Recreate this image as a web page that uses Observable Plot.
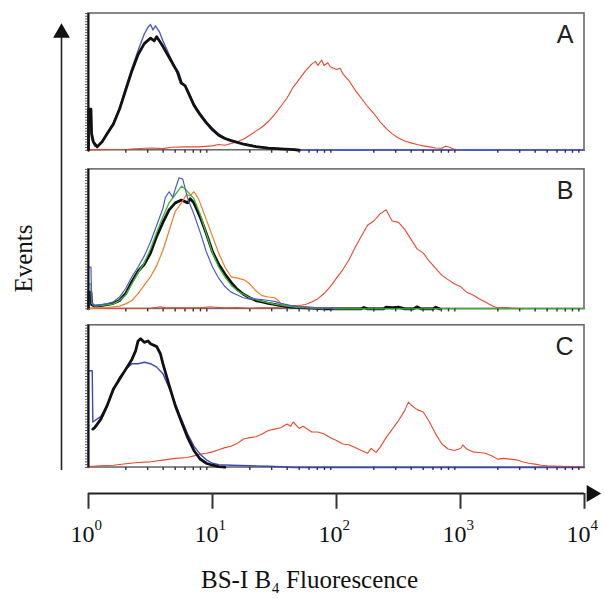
<!DOCTYPE html>
<html>
<head>
<meta charset="utf-8">
<script src="https://cdn.jsdelivr.net/npm/d3@7"></script>
<script src="https://cdn.jsdelivr.net/npm/@observablehq/plot@0.6"></script>
<style>
  html, body { margin: 0; padding: 0; background: #fff; }
</style>
</head>
<body>
<script>
// ---------- DATA (x = log10 fluorescence in decades, y = % of panel height) ----------
const panelIds = ["A", "B", "C"];
const decadeTicks = [1, 10, 100, 1000, 10000];
const tickBase = "10";
const tickExponents = ["0", "1", "2", "3", "4"];
const xTitle = "BS-I B\u2084 Fluorescence";
const yTitle = "Events";

const blackA = [[0,0],[0,30],[0.02,30],[0.025,12],[0.04,6],[0.07,2.5],[0.11,6.2],[0.15,12],[0.2,19],[0.25,30],[0.3,44],[0.35,58],[0.4,70],[0.45,78],[0.5,82],[0.53,80],[0.55,83],[0.6,76],[0.65,68],[0.7,60],[0.72,57],[0.75,49],[0.78,47],[0.8,43],[0.85,33],[0.9,26],[0.95,20],[1.0,15],[1.05,11],[1.1,8.6],[1.15,7],[1.2,5.7],[1.25,4.4],[1.3,3.5],[1.35,2.7],[1.45,1.5],[1.55,1],[1.66,0.5],[1.7,0]];
const blueA = [[0,0],[0,20],[0.02,20],[0.025,8],[0.05,3],[0.07,2.5],[0.11,6.5],[0.15,12.5],[0.2,20],[0.25,31],[0.3,46],[0.35,60],[0.4,73],[0.45,85],[0.48,90],[0.5,92],[0.52,88],[0.54,91],[0.57,87],[0.6,80],[0.65,70],[0.7,60],[0.74,49],[0.77,48],[0.8,44],[0.85,34],[0.9,27],[0.95,21],[1.0,16],[1.05,12],[1.1,9],[1.15,7.3],[1.2,6],[1.25,4.8],[1.3,3.8],[1.35,3],[1.45,1.7],[1.55,1.1],[1.66,0.6],[1.7,0],[4,0]];
const redA = [[0,0.3],[0.32,0.7],[0.45,1.5],[0.51,1.7],[0.6,1.2],[0.67,2.2],[0.78,2.5],[0.89,2.5],[1.0,3.2],[1.05,4.2],[1.1,3.7],[1.15,4.9],[1.2,6.2],[1.25,8],[1.3,11],[1.35,14],[1.4,17],[1.45,21],[1.5,26],[1.55,32],[1.6,38],[1.65,46],[1.7,52],[1.75,58],[1.8,63],[1.83,65],[1.85,62],[1.88,66],[1.9,62],[1.93,64],[1.95,61],[2.0,59],[2.03,60],[2.05,56],[2.1,51],[2.15,44],[2.2,38],[2.25,32],[2.3,27],[2.35,21],[2.4,16],[2.45,12],[2.5,9],[2.55,6.7],[2.6,5.4],[2.65,4.2],[2.7,3.2],[2.75,2.5],[2.8,1.7],[2.85,1.5],[2.88,3],[2.9,2.5],[2.93,1.5],[2.95,0.7],[3.0,0]];

const blackB = [[0,0],[0,12],[0.02,12],[0.025,3],[0.05,2],[0.1,2.4],[0.15,3],[0.2,4],[0.25,6],[0.3,11],[0.35,19.5],[0.4,27],[0.45,32],[0.5,40],[0.55,52],[0.6,62],[0.65,71],[0.7,76],[0.75,78],[0.8,76],[0.82,79],[0.85,76],[0.9,66],[0.95,54],[1.0,41],[1.05,32],[1.1,25],[1.15,19],[1.2,14],[1.25,10.5],[1.3,8],[1.35,6],[1.4,5],[1.45,4],[1.5,3.2],[1.55,2.4],[1.6,1.7],[1.7,1],[1.8,0.5],[1.9,0],[2.2,0],[2.22,1],[2.25,0],[2.38,0],[2.4,1.2],[2.45,0.8],[2.5,1.2],[2.55,0],[2.62,0],[2.65,1.5],[2.68,0],[2.78,0],[2.8,1.2],[2.83,0]];
const greenB = [[0,0],[0,18],[0.02,18],[0.025,4],[0.05,2],[0.1,2.4],[0.2,3.6],[0.25,6],[0.3,10],[0.35,18],[0.4,26],[0.45,33],[0.5,43],[0.55,55],[0.6,66],[0.65,76],[0.7,82],[0.75,88],[0.78,86],[0.8,84],[0.85,79],[0.9,68],[0.95,54],[1.0,40],[1.05,30],[1.1,23],[1.15,17],[1.2,13],[1.3,8],[1.4,5.4],[1.5,3.4],[1.6,2],[1.7,1],[1.9,0.5],[2.0,0],[4,0]];
const blueB = [[0,0],[0,30],[0.02,30],[0.025,5],[0.05,2.4],[0.1,3],[0.15,3.6],[0.2,5],[0.25,8.5],[0.3,14.6],[0.35,23],[0.4,30],[0.45,38],[0.5,48],[0.55,60],[0.6,72],[0.62,80],[0.65,84],[0.68,80],[0.7,86],[0.73,94],[0.76,93],[0.8,79],[0.85,68],[0.9,55],[0.95,41],[1.0,30],[1.05,22],[1.1,16],[1.15,12],[1.2,10],[1.25,8],[1.3,7],[1.35,7],[1.4,6.6],[1.45,6],[1.5,5.4],[1.55,4],[1.6,3],[1.65,2],[1.75,1],[1.9,0.5],[2.0,0]];
const orangeB = [[0,0],[0.05,0.5],[0.15,1],[0.25,2],[0.3,3.6],[0.35,6],[0.4,11],[0.45,17],[0.5,23],[0.55,31],[0.6,42],[0.65,56],[0.7,70],[0.75,76],[0.79,82],[0.82,81],[0.85,84],[0.88,80],[0.9,76],[0.95,64],[1.0,52],[1.05,40],[1.1,30],[1.15,23],[1.2,22],[1.25,21],[1.3,18],[1.35,13],[1.4,9.5],[1.45,8.5],[1.5,8],[1.53,6],[1.55,4],[1.6,2.4],[1.7,1.5],[1.8,0.7],[1.9,0]];
const redB = [[0,0.3],[0.5,0.5],[0.58,1.5],[0.62,0.7],[0.9,0.7],[0.98,1.5],[1.02,1.2],[1.1,0.7],[1.2,1],[1.3,0.5],[1.5,1],[1.6,1.5],[1.65,2],[1.7,2.4],[1.75,3.2],[1.8,4.9],[1.85,7.3],[1.9,11],[1.95,16],[2.0,22],[2.05,28],[2.1,35],[2.15,44],[2.2,52],[2.25,60],[2.3,63],[2.35,68],[2.4,71],[2.43,66],[2.45,63],[2.5,62],[2.55,57],[2.6,50],[2.65,43],[2.7,40],[2.75,34],[2.8,29],[2.85,24],[2.9,21],[2.95,18],[3.0,16],[3.05,12],[3.1,10],[3.15,7.3],[3.2,4.9],[3.25,2.4],[3.3,0.7],[3.35,1],[3.4,0.7],[3.45,0.5],[3.5,0]];

const blackC = [[0.035,27],[0.05,28],[0.1,34],[0.15,43.5],[0.2,55],[0.25,62],[0.3,69],[0.35,76],[0.38,82],[0.4,89],[0.42,90.6],[0.45,88],[0.48,89],[0.5,87],[0.55,85],[0.58,80],[0.6,73],[0.65,58],[0.7,43.5],[0.75,32],[0.8,21],[0.85,12],[0.9,6],[0.95,3],[1.0,1.6],[1.05,0.7],[1.1,0.2]];
const blueC = [[0,0],[0,68],[0.03,68],[0.035,32],[0.1,36],[0.15,43.5],[0.2,54],[0.25,63.5],[0.3,69],[0.35,73],[0.4,73],[0.45,74],[0.5,73],[0.55,70.6],[0.6,66],[0.65,56],[0.7,45],[0.75,34],[0.8,23.5],[0.85,15],[0.9,9.4],[0.95,5.4],[1.0,3],[1.05,2],[1.15,1.6],[1.3,1.2],[1.45,0.9],[1.55,0.5],[1.65,0],[4,0]];
const redC = [[0,0.7],[0.1,1.2],[0.2,1.6],[0.3,2.6],[0.4,3.5],[0.5,4],[0.6,5.2],[0.7,6.4],[0.8,7],[0.85,8.2],[0.9,9.4],[0.95,10],[1.0,11],[1.05,12.5],[1.1,14],[1.15,15],[1.2,17],[1.25,20],[1.3,21],[1.35,21.6],[1.4,23.5],[1.45,26],[1.5,27],[1.55,28],[1.6,30.6],[1.63,29],[1.65,32],[1.7,27.5],[1.73,29],[1.8,25],[1.85,25],[1.9,23.5],[1.95,21],[2.0,19],[2.05,16.5],[2.1,16],[2.15,14],[2.2,12],[2.25,10],[2.28,13.4],[2.32,10.6],[2.35,14],[2.4,21],[2.45,27],[2.5,33],[2.55,40],[2.58,46],[2.6,44],[2.65,40.7],[2.7,39],[2.75,32],[2.8,23.5],[2.85,16.5],[2.9,13],[2.95,12],[3.0,13.4],[3.02,15.8],[3.05,13],[3.1,11],[3.15,10.6],[3.2,10],[3.25,8.2],[3.3,5.9],[3.35,6.4],[3.4,5.9],[3.45,5.4],[3.5,4],[3.55,3],[3.6,2.4],[3.65,1.6],[3.7,1.2],[3.8,0.9],[3.9,0.7],[4.0,0.5]];

// ---------- LAYOUT & STYLE ----------
const xDomain = [1, 10000];
const yDomain = [-19, 332];
const axisLineY = yDomain[0];
const layout = {
  A: { base: 232, span: 100 },
  B: { base: 116, span: 102 },
  C: { base: 0, span: 104 }
};
const colors = {
  black: "#111111", blue: "#4e5cc4", blueDark: "#3a49b6",
  red: "#e64a30", orange: "#f27d20", green: "#3dba3a"
};
const serif = "'Liberation Serif', 'Times New Roman', serif";
const sans = "'Liberation Sans', Arial, sans-serif";

const drawList = [
  { panel: "A", pts: redA, color: colors.red, width: 1.1 },
  { panel: "A", pts: blueA, color: colors.blue, width: 1.4 },
  { panel: "A", pts: blackA, color: colors.black, width: 2.8 },
  { panel: "B", pts: redB, color: colors.red, width: 1.1 },
  { panel: "B", pts: blackB, color: colors.black, width: 2.8 },
  { panel: "B", pts: orangeB, color: colors.orange, width: 1.2 },
  { panel: "B", pts: greenB, color: colors.green, width: 1.3 },
  { panel: "B", pts: blueB, color: colors.blue, width: 1.2 },
  { panel: "C", pts: redC, color: colors.red, width: 1.1 },
  { panel: "C", pts: blueC, color: colors.blueDark, width: 1.4 },
  { panel: "C", pts: blackC, color: colors.black, width: 2.8 }
];

const toRows = (panel, pts) => pts.map(([e, h]) => ({
  x: 10 ** e,
  y: layout[panel].base + h * layout[panel].span / 100
}));

const lineMarks = drawList.map(s => Plot.line(toRows(s.panel, s.pts), {
  x: "x", y: "y", stroke: s.color, strokeWidth: s.width, strokeLinejoin: "round"
}));

const minorTicks = [];
for (const p of panelIds) {
  for (let k = 0; k < 4; k++) for (let m = 2; m <= 9; m++) {
    minorTicks.push({ x: m * 10 ** k, base: layout[p].base });
  }
}
const leftTicks = [];
for (const p of panelIds) {
  for (let i = 0; i <= 50; i++) leftTicks.push(layout[p].base + i * layout[p].span / 50);
}
const tickRows = decadeTicks.map((v, i) => ({ x: v, base: tickBase, exp: tickExponents[i] }));

const chart = Plot.plot({
  width: 604,
  height: 599,
  marginTop: 13,
  marginBottom: 106,
  marginLeft: 88,
  marginRight: 20,
  style: { fontFamily: serif, fontSize: "20px", color: "#111", background: "#fff" },
  x: { type: "log", domain: xDomain, axis: null },
  y: { domain: yDomain },
  marks: [
    Plot.rect(panelIds, {
      x1: xDomain[0], x2: xDomain[1],
      y1: p => layout[p].base, y2: p => layout[p].base + layout[p].span,
      fill: "none", stroke: "#6a6a6a", strokeWidth: 1.6
    }),
    ...lineMarks,
    Plot.ruleX(panelIds, {
      x: () => xDomain[0],
      y1: p => layout[p].base, y2: p => layout[p].base + layout[p].span,
      stroke: "#111", strokeWidth: 2
    }),
    Plot.axisY({ ticks: leftTicks, tickSize: 3, tickFormat: () => "", label: null, stroke: "#333", strokeWidth: 0.8 }),
    Plot.ruleX(minorTicks, {
      x: "x", y1: d => d.base, y2: d => d.base - 2.2, stroke: "#333", strokeWidth: 1.4
    }),
    Plot.text(panelIds, {
      x: () => xDomain[1], y: p => layout[p].base + layout[p].span,
      text: d => d, dx: -11, dy: 12, textAnchor: "end", lineAnchor: "top",
      fontFamily: sans, fontSize: 25, fill: "#222"
    }),
    Plot.ruleY([axisLineY], { x1: xDomain[0], x2: xDomain[1], stroke: "#222", strokeWidth: 2 }),
    Plot.dot([axisLineY], {
      x: () => xDomain[1], y: d => d, dx: 7, symbol: "triangle2", r: 8, rotate: 90,
      fill: "#111", stroke: "none"
    }),
    Plot.ruleX(decadeTicks, { x: d => d, y1: axisLineY, y2: axisLineY - 11.5, stroke: "#333", strokeWidth: 2 }),
    Plot.text(tickRows, {
      x: "x", y: () => axisLineY, text: "base", dx: 6, dy: 41, textAnchor: "end",
      fontSize: 24, fontFamily: serif, fill: "#111"
    }),
    Plot.text(tickRows, {
      x: "x", y: () => axisLineY, text: "exp", dx: 6, dy: 32, textAnchor: "start",
      fontSize: 15, fontFamily: serif, fill: "#111"
    }),
    Plot.text([xTitle], { frameAnchor: "bottom", dx: -27, dy: 94, fontSize: 25, fontFamily: serif, fill: "#111" }),
    Plot.ruleX([xDomain[0]], { dx: -27, y1: -2.1, y2: 316, stroke: "#222", strokeWidth: 1.6 }),
    Plot.dot([xDomain[0]], {
      x: d => d, y: () => 317.8, dx: -27, symbol: "triangle2", r: 8, fill: "#111", stroke: "none"
    }),
    Plot.text([yTitle], { frameAnchor: "left", dx: -65, dy: 39, rotate: -90, fontSize: 25, fontFamily: serif, fill: "#111" })
  ]
});
document.body.appendChild(chart);
</script>
</body>
</html>
